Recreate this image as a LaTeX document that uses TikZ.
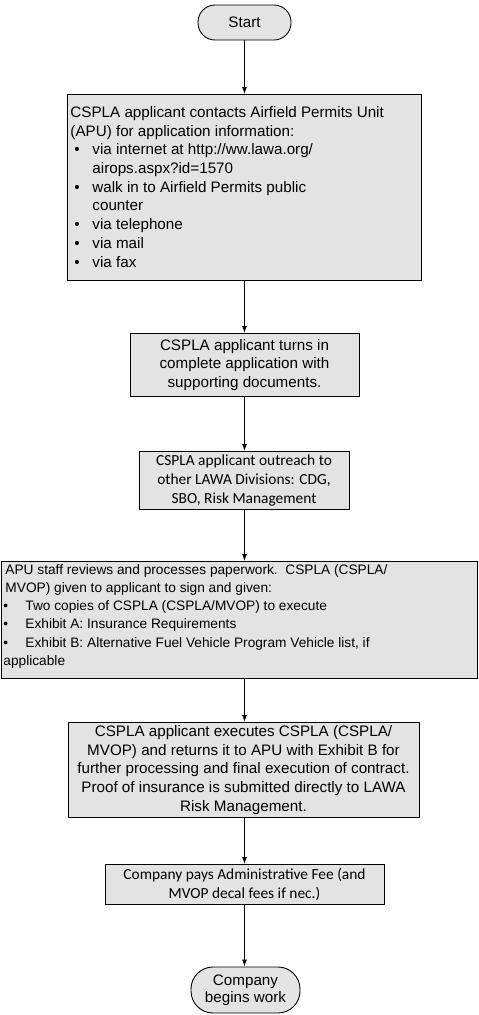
\documentclass[tikz,border=0pt]{standalone}
\usepackage{fontspec}
\setmainfont{Liberation Sans}
\newfontfamily\calfont{Carlito}
\usetikzlibrary{arrows.meta}
\definecolor{boxfill}{gray}{0.89}
\newcommand{\bulA}{\hspace*{7pt}\makebox[18pt][l]{\textbullet}}
\newcommand{\bulB}{\hspace*{2pt}\makebox[22pt][l]{\textbullet}}
\begin{document}
\begin{tikzpicture}[x=1pt,y=-1pt,
  box/.style={draw=black,line width=0.9pt,fill=boxfill,inner sep=0pt},
  arr/.style={line width=1pt,-{Latex[length=7pt,width=5pt]}},
  arial/.style={font=\fontsize{15.2}{18.7}\selectfont},
  calib/.style={font=\calfont\fontsize{15.4}{19}\selectfont},
]
\useasboundingbox (0,0) rectangle (479,1015);
\node[box,arial,rounded corners=17pt,minimum width=93pt,minimum height=35pt] (start) at (244.5,22.5) {Start};
\node[box,anchor=north west,align=left] (b1) at (67,94)
 {\parbox[c][186pt][t]{354pt}{\fontsize{15.2}{18.7}\selectfont
 \vspace*{12pt}\hspace*{3pt}CSPLA applicant contacts Airfield Permits Unit\\
 \hspace*{3pt}(APU) for application information:\\
 \bulA via internet at http://ww.lawa.org/\\
 \hspace*{25pt}airops.aspx?id=1570\\
 \bulA walk in to Airfield Permits public\\
 \hspace*{25pt}counter\\
 \bulA via telephone\\
 \bulA via mail\\
 \bulA via fax}};
\node[box,arial,anchor=north,align=center,minimum width=229pt,minimum height=63pt] (b2) at (244.5,333)
 {CSPLA applicant turns in\\ complete application with\\ supporting documents.};
\node[box,calib,anchor=north,align=center,minimum width=210pt,minimum height=58pt] (b3) at (244,451)
 {CSPLA applicant outreach to\\ other LAWA Divisions: CDG,\\ SBO, Risk Management};
\node[box,anchor=north west,align=left] (b4) at (1,561)
 {\parbox[c][117pt][t]{476pt}{\fontsize{13.7}{18.2}\selectfont
 \vspace*{3pt}\hspace*{4pt}APU staff reviews and processes paperwork.\ \ CSPLA (CSPLA/\\
 \hspace*{4pt}MVOP) given to applicant to sign and given:\\
 \bulB Two copies of CSPLA (CSPLA/MVOP) to execute\\
 \bulB Exhibit A: Insurance Requirements\\
 \bulB Exhibit B: Alternative Fuel Vehicle Program Vehicle list, if\\
 \hspace*{2pt}applicable}};
\node[box,arial,anchor=north,align=center,minimum width=351pt,minimum height=95pt] (b5) at (243.5,722)
 {CSPLA applicant executes CSPLA (CSPLA/\\ MVOP) and returns it to APU with Exhibit B for\\ further processing and final execution of contract.\\ Proof of insurance is submitted directly to LAWA\\ Risk Management.};
\node[box,anchor=north,align=center,minimum width=279pt,minimum height=40pt,font=\calfont\fontsize{15.4}{19}\selectfont] (b6) at (244.5,864)
 {Company pays Administrative Fee (and\\ MVOP decal fees if nec.)};
\node[box,rounded corners=22pt,minimum width=109pt,minimum height=46pt,align=center,font=\fontsize{15.2}{17}\selectfont] (end) at (245.5,990)
 {Company\\ begins work};
\draw[arr] (start.south) -- (start.south |- b1.north);
\draw[arr] (start.south |- b1.south) -- (start.south |- b2.north);
\draw[arr] (start.south |- b2.south) -- (start.south |- b3.north);
\draw[arr] (start.south |- b3.south) -- (start.south |- b4.north);
\draw[arr] (start.south |- b4.south) -- (start.south |- b5.north);
\draw[arr] (start.south |- b5.south) -- (start.south |- b6.north);
\draw[arr] (start.south |- b6.south) -- (start.south |- end.north);
\end{tikzpicture}
\end{document}
